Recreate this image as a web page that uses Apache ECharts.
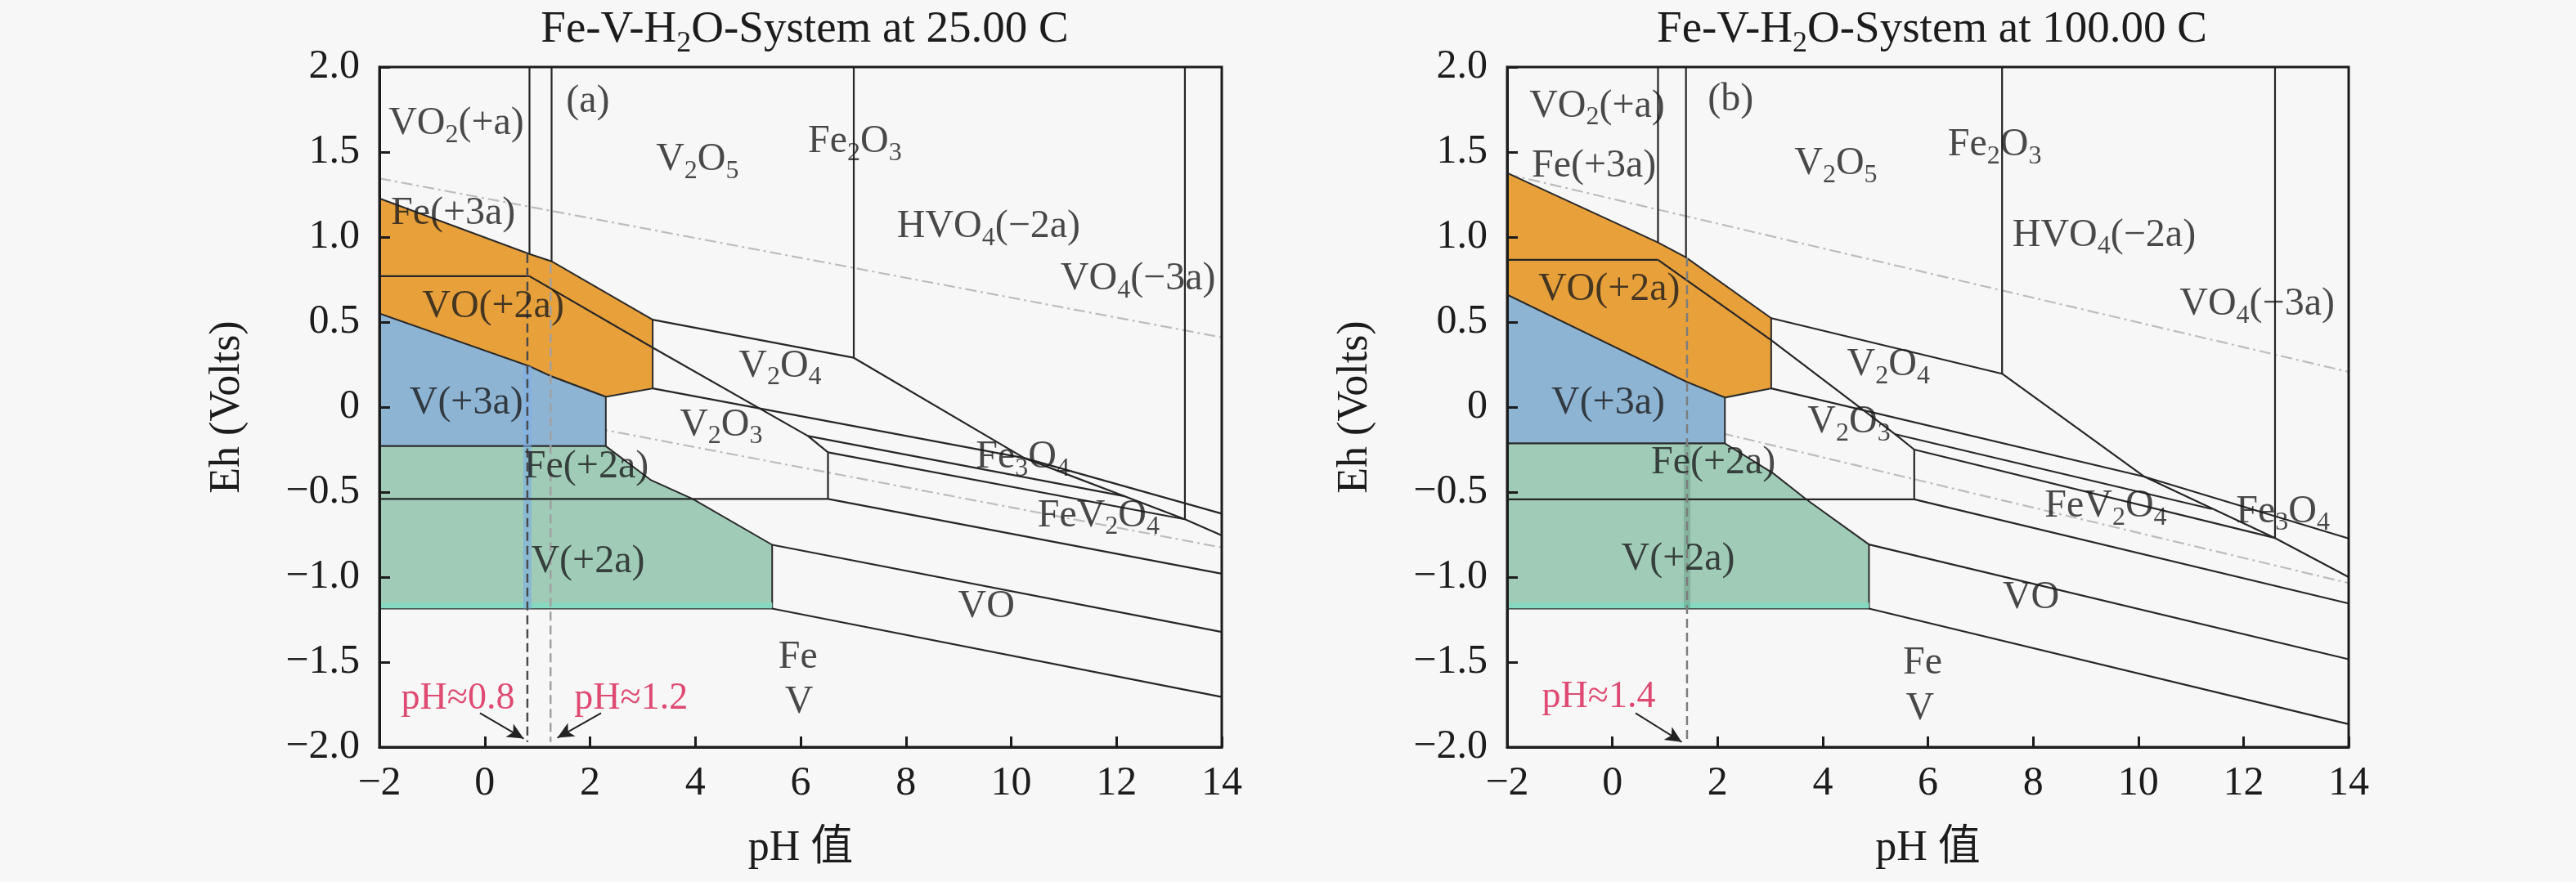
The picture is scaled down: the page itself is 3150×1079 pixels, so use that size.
<!DOCTYPE html>
<html><head><meta charset="utf-8">
<script src="https://cdn.jsdelivr.net/npm/echarts@6/dist/echarts.min.js"></script>
<style>html,body{margin:0;padding:0;background:#f7f7f7;}#c{width:3150px;height:1079px;}</style>
</head><body><div id="c"></div>
<script>
// ---------- axes / text ----------
const xTicks = [-2,0,2,4,6,8,10,12,14];
const xTickLabels = ['−2','0','2','4','6','8','10','12','14'];
const yTicks = [-2,-1.5,-1,-0.5,0,0.5,1,1.5,2];
const yTickLabels = ['−2.0','−1.5','−1.0','−0.5','0','0.5','1.0','1.5','2.0'];
const titles = ['Fe-V-H_2O-System at 25.00 C','Fe-V-H_2O-System at 100.00 C'];
const xName = 'pH 值';
const yName = 'Eh (Volts)';

// ---------- panel (a) 25 C ----------
const a_orange = [[-2,1.227],[0.85,0.90],[1.27,0.857],[3.19,0.514],[3.19,0.11],[2.30,0.06],[1.27,0.18],[0.85,0.24],[-2,0.55]];
const a_blue   = [[-2,0.55],[0.85,0.24],[1.27,0.18],[2.30,0.06],[2.30,-0.23],[-2,-0.23]];
const a_green  = [[-2,-0.23],[2.30,-0.23],[3.16,-0.43],[3.95,-0.54],[5.46,-0.81],[5.46,-1.185],[-2,-1.185]];
const a_lines = [
  [[0.85,2],[0.85,0.90]],
  [[1.27,2],[1.27,0.857]],
  [[7.01,2],[7.01,0.29]],
  [[13.3,2],[13.3,-0.66]],
  [[-2,0.77],[0.85,0.77]],
  [[0.85,0.77],[3.19,0.35],[6.14,-0.17],[6.52,-0.266]],
  [[6.52,-0.266],[6.52,-0.54]],
  [[-2,-0.54],[6.52,-0.54]],
  [[3.19,0.514],[7.01,0.29]],
  [[7.01,0.29],[10.25,-0.30],[13.3,-0.66],[14,-0.755]],
  [[3.19,0.11],[10.25,-0.30]],
  [[10.25,-0.30],[14,-0.627]],
  [[6.14,-0.17],[12.16,-0.525]],
  [[6.52,-0.266],[13.3,-0.66]],
  [[6.52,-0.54],[14,-0.98]],
  [[5.46,-0.81],[14,-1.323]],
  [[5.46,-1.185],[14,-1.705]]
];
const a_waterUp  = [[-2,1.345],[14,0.41]];
const a_waterLow = [[-2,0.118],[14,-0.826]];
const a_greenBand = [[-2,-1.167],[5.46,-1.167]];
const a_ph08 = [[0.81,0.90],[0.81,-1.97]];
const a_ph12 = [[1.25,0.84],[1.25,-1.97]];
const a_band08 = [[0.81,0.24],[0.81,-1.185]];
const a_arrows = [[[-0.09,-1.80],[0.74,-1.95]], [[2.21,-1.80],[1.38,-1.945]]];
const a_notes = [['pH≈0.8',-0.51,-1.716],['pH≈1.2',2.78,-1.716]];
const a_labels = [
  ['VO_2(+a)',-0.54,1.65],['(a)',1.96,1.78],['V_2O_5',4.04,1.44],['Fe_2O_3',7.03,1.544],
  ['HVO_4(−2a)',9.57,1.047],['VO_4(−3a)',12.41,0.737],['Fe(+3a)',-0.60,1.124],
  ['VO(+2a)',0.16,0.574],['V(+3a)',-0.35,0.008],['V_2O_4',5.61,0.226],['V_2O_3',4.49,-0.12],
  ['Fe_3O_4',10.22,-0.31],['FeV_2O_4',11.66,-0.654],['Fe(+2a)',1.93,-0.365],
  ['V(+2a)',1.96,-0.924],['VO',9.53,-1.19],['Fe',5.95,-1.487],['V',5.97,-1.753]
];

// ---------- panel (b) 100 C ----------
const b_orange = [[-2,1.377],[0.868,0.968],[1.40,0.88],[3.02,0.523],[3.02,0.11],[2.14,0.056],[1.40,0.15],[-2,0.66]];
const b_blue   = [[-2,0.66],[1.40,0.15],[2.14,0.056],[2.14,-0.214],[-2,-0.214]];
const b_green  = [[-2,-0.214],[2.14,-0.214],[3.06,-0.39],[3.69,-0.543],[4.88,-0.808],[4.88,-1.185],[-2,-1.185]];
const b_lines = [
  [[0.868,2],[0.868,0.968]],
  [[1.40,2],[1.40,0.88]],
  [[7.41,2],[7.41,0.196]],
  [[12.6,2],[12.6,-0.77]],
  [[-2,0.866],[0.868,0.866]],
  [[0.868,0.866],[3.02,0.394],[5.38,-0.16],[5.74,-0.25]],
  [[5.74,-0.25],[5.74,-0.543]],
  [[-2,-0.543],[5.74,-0.543]],
  [[3.02,0.523],[7.41,0.196]],
  [[7.41,0.196],[10.12,-0.41],[12.6,-0.77],[14,-1.0]],
  [[3.02,0.11],[10.12,-0.41]],
  [[10.12,-0.41],[14,-0.773]],
  [[5.38,-0.16],[11.4,-0.6]],
  [[5.74,-0.25],[12.6,-0.77]],
  [[5.74,-0.543],[14,-1.155]],
  [[4.88,-0.808],[14,-1.483]],
  [[4.88,-1.185],[14,-1.865]]
];
const b_waterUp  = [[-2,1.37],[14,0.207]];
const b_waterLow = [[-2,0.148],[14,-1.035]];
const b_greenBand = [[-2,-1.167],[4.88,-1.167]];
const b_ph14 = [[1.42,0.88],[1.42,-1.97]];
const b_band14 = [[1.42,-0.214],[1.42,-1.185]];
const b_arrows = [[[0.44,-1.80],[1.32,-1.97]]];
const b_notes = [['pH≈1.4',-0.26,-1.708]];
const b_labels = [
  ['VO_2(+a)',-0.29,1.755],['(b)',2.25,1.79],['Fe(+3a)',-0.35,1.40],['V_2O_5',4.25,1.416],
  ['Fe_2O_3',7.27,1.527],['HVO_4(−2a)',9.35,0.995],['VO_4(−3a)',12.26,0.588],
  ['VO(+2a)',-0.06,0.677],['V(+3a)',-0.08,0.008],['V_2O_4',5.25,0.234],['V_2O_3',4.5,-0.103],
  ['Fe(+2a)',1.92,-0.343],['V(+2a)',1.25,-0.911],['FeV_2O_4',9.38,-0.597],['Fe_3O_4',12.75,-0.63],
  ['VO',7.96,-1.137],['Fe',5.9,-1.522],['V',5.85,-1.788]
];

// ---------- build ----------
const SERIF = "'Liberation Serif','Times New Roman',serif";
const INK = '#1c1c1c';
const RED = '#d81e50';
function rt(s){
  return s.split(/(_\d)/).filter(t=>t).map(t=> t[0]==='_' ? '{s|'+t.slice(1)+'}' : '{n|'+t+'}').join('');
}
const labelRich = {
  n:{fontSize:48,fontFamily:SERIF,color:INK,verticalAlign:'bottom',padding:[0,0,6,0]},
  s:{fontSize:32,fontFamily:SERIF,color:INK,verticalAlign:'bottom'},
  r:{fontSize:46,fontFamily:SERIF,color:RED}
};
const grids = [
  {left:464, top:82, width:1030, height:832},
  {left:1843, top:82, width:1029, height:832}
];
const panels = [
  {orange:a_orange, blue:a_blue, green:a_green, lines:a_lines, up:a_waterUp, low:a_waterLow, gband:a_greenBand,
   dashed:[[a_ph08,'#4a4a4a'],[a_ph12,'#a0a0a0']], bands:[[a_band08,'rgba(125,175,230,0.6)',10]],
   arrows:a_arrows, notes:a_notes, labels:a_labels},
  {orange:b_orange, blue:b_blue, green:b_green, lines:b_lines, up:b_waterUp, low:b_waterLow, gband:b_greenBand,
   dashed:[[b_ph14,'#7d7d7d']], bands:[[b_band14,'rgba(70,130,100,0.30)',8]],
   arrows:b_arrows, notes:b_notes, labels:b_labels}
];

const series = [];
panels.forEach((P,i)=>{
  const ax = {xAxisIndex:i, yAxisIndex:i, animation:false, silent:true};
  const line = (data,color,width,type,z)=>series.push(Object.assign({type:'line',data,symbol:'none',z,
     lineStyle:{color,width,type:type||'solid'}},ax));
  line(P.up,'#bdbdbd',2.2,[14,5,3,5],2);
  line(P.low,'#bdbdbd',2.2,[14,5,3,5],2);
  [[P.orange,'#e8a03a'],[P.blue,'#8eb4d4'],[P.green,'#9fcbb7']].forEach(([poly,fill])=>{
    series.push(Object.assign({type:'custom',z:3,data:poly,
      renderItem:(params,api)=>{
        if(params.dataIndex!==0) return;
        return {type:'polygon',shape:{points:poly.map(p=>api.coord(p))},
                style:{fill,stroke:'#2a2a2a',lineWidth:2}};
      }},ax));
  });
  line(P.gband,'#86d9c0',7,'solid',4);
  P.bands.forEach(([d,c,w])=>line(d,c,w,'solid',4));
  P.lines.forEach(d=>line(d,'#262626',2.2,'solid',5));
  P.dashed.forEach(([d,c])=>line(d,c,2.5,[11,6],6));
  series.push(Object.assign({type:'line',data:[],z:7,
    markLine:{silent:true,animation:false,symbol:['none','arrow'],symbolSize:[14,20],
      lineStyle:{color:'#222',width:2,type:'solid'},label:{show:false},
      data:P.arrows.map(a=>[{coord:a[0]},{coord:a[1]}])}},ax));
  series.push(Object.assign({type:'scatter',symbolSize:0,z:8,
    data:P.labels.map(l=>({value:[l[1],l[2]],txt:rt(l[0])})).concat(
         P.notes.map(l=>({value:[l[1],l[2]],txt:'{r|'+l[0]+'}'}))),
    label:{show:true,position:'inside',color:INK,formatter:p=>p.data.txt,rich:labelRich}},ax));
});

const xAxis = grids.map((g,i)=>({gridIndex:i,type:'value',min:-2,max:14,interval:2,z:10,
  axisLine:{show:true,onZero:false,lineStyle:{color:INK,width:3}},
  axisTick:{show:true,inside:true,length:13,lineStyle:{color:INK,width:3}},
  splitLine:{show:false},
  axisLabel:{margin:20,fontSize:50,fontFamily:SERIF,color:INK,
    formatter:v=>{const k=xTicks.findIndex(t=>Math.abs(t-v)<1e-9);return k<0?'':xTickLabels[k];}},
  name:xName,nameLocation:'middle',nameGap:98,
  nameTextStyle:{fontSize:52,color:INK,fontFamily:"'Liberation Serif','Noto Sans CJK SC',serif"}}));
const yAxis = grids.map((g,i)=>({gridIndex:i,type:'value',min:-2,max:2,interval:0.5,z:10,
  axisLine:{show:true,onZero:false,lineStyle:{color:INK,width:3}},
  axisTick:{show:true,inside:true,length:13,lineStyle:{color:INK,width:3}},
  splitLine:{show:false},
  axisLabel:{margin:24,fontSize:50,fontFamily:SERIF,color:INK,
    formatter:v=>{const k=yTicks.findIndex(t=>Math.abs(t-v)<1e-9);return k<0?'':yTickLabels[k];}},
  name:yName,nameLocation:'middle',nameGap:160,
  nameTextStyle:{fontSize:52,color:INK,fontFamily:SERIF}}));

const chart = echarts.init(document.getElementById('c'),null,{renderer:'canvas'});
chart.setOption({
  backgroundColor:'#f7f7f7',
  animation:false,
  title:grids.map((g,i)=>({text:rt(titles[i]),left:g.left+g.width/2,top:4,textAlign:'center',
    textStyle:{fontWeight:'normal',rich:{
      n:{fontSize:55,fontWeight:'normal',fontFamily:SERIF,color:INK,verticalAlign:'bottom',padding:[0,0,8,0]},
      s:{fontSize:36,fontWeight:'normal',fontFamily:SERIF,color:INK,verticalAlign:'bottom'}}}})),
  grid:grids.map(g=>Object.assign({show:true,borderWidth:3,borderColor:INK,backgroundColor:'rgba(0,0,0,0)',z:10},g)),
  xAxis, yAxis, series
});
</script></body></html>
